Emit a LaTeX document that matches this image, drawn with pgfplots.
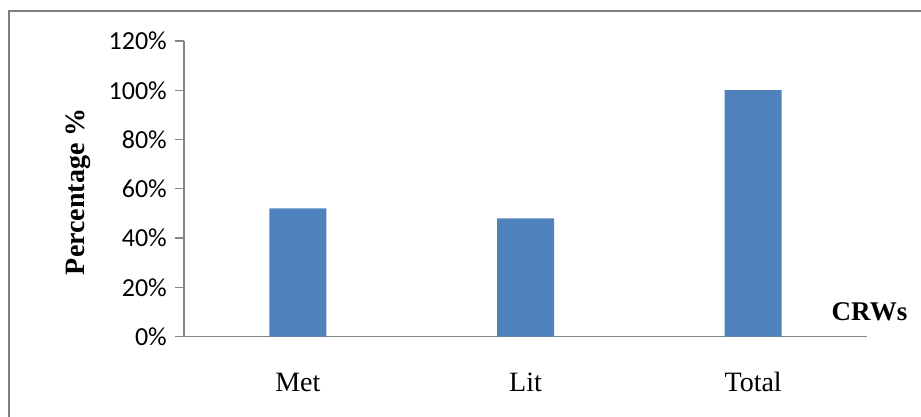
\documentclass[border=0pt]{standalone}
\usepackage{fontspec}
\setmainfont{Liberation Serif}
\newfontfamily\calfont{Carlito}
\usepackage{pgfplots}
\pgfplotsset{compat=1.18}
\definecolor{barblue}{RGB}{79,129,189}
\definecolor{axgray}{RGB}{134,134,134}
\definecolor{framegray}{RGB}{128,128,128}
\begin{document}
\begin{tikzpicture}
\begin{axis}[
  at={(0,0)}, anchor=south west,
  scale only axis,
  width=683bp, height=295.5bp,
  xmin=-0.5, xmax=2.5,
  ymin=0, ymax=120,
  axis lines=left,
  axis line style={-, draw=axgray, line width=1.1bp},
  xtick={0,1,2},
  xticklabels={Met,Lit,Total},
  xtick style={draw=none},
  xticklabel style={anchor=base, inner sep=0pt, yshift=-45.5bp, font=\fontsize{28bp}{34bp}\selectfont},
  ytick={0,20,40,60,80,100,120},
  yticklabels={0\%,20\%,40\%,60\%,80\%,100\%,120\%},
  tick align=outside,
  major tick length=9bp,
  ytick style={draw=axgray, line width=1.1bp},
  yticklabel style={anchor=east, inner sep=0pt, xshift=-8bp, font=\calfont\fontsize{26bp}{31bp}\selectfont},
  clip=false,
]
\addplot[ybar, bar width=57bp, bar shift=0pt, fill=barblue, draw=none]
  coordinates {(0,52) (1,48) (2,100)};
\node[rotate=90, anchor=base, inner sep=0pt, font=\bfseries\fontsize{28bp}{34bp}\selectfont]
  at ([xshift=-99bp, yshift=-3bp]axis description cs:0,0.5) {Percentage \%};
\node[anchor=base, inner sep=0pt, font=\bfseries\fontsize{27bp}{32bp}\selectfont]
  at ([xshift=2.5bp, yshift=15.8bp]axis description cs:1,0) {CRWs};
\end{axis}
\draw[framegray, line width=1.4bp] (-175bp,-90bp) -- (-175bp,325.5bp) -- (745bp,325.5bp);
\pgfresetboundingbox
\path[use as bounding box] (-184bp,-80.5bp) rectangle (737bp,336.5bp);
\end{tikzpicture}
\end{document}
